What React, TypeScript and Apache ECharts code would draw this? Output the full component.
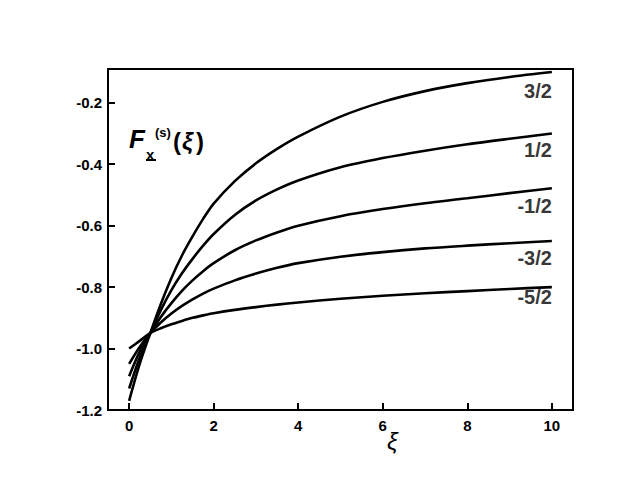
import React, { useEffect, useRef } from "react";
import * as echarts from "echarts";

const xi = [0, 0.25, 0.5, 0.75, 1, 1.25, 1.5, 1.75, 2, 2.5, 3, 3.5, 4, 5, 6, 7, 8, 9, 10];
const seriesNames = ["3/2", "1/2", "-1/2", "-3/2", "-5/2"];
const s32 = [-1.17, -1.05, -0.95, -0.855, -0.77, -0.697, -0.635, -0.578, -0.528, -0.455, -0.397, -0.35, -0.31, -0.245, -0.197, -0.162, -0.136, -0.116, -0.1];
const s12 = [-1.13, -1.03, -0.95, -0.875, -0.81, -0.755, -0.708, -0.665, -0.627, -0.565, -0.518, -0.482, -0.453, -0.41, -0.38, -0.356, -0.335, -0.317, -0.3];
const sm12 = [-1.09, -1.01, -0.95, -0.897, -0.852, -0.812, -0.778, -0.748, -0.722, -0.68, -0.648, -0.622, -0.6, -0.569, -0.546, -0.527, -0.511, -0.494, -0.478];
const sm32 = [-1.05, -0.995, -0.95, -0.915, -0.886, -0.861, -0.84, -0.821, -0.805, -0.778, -0.756, -0.737, -0.722, -0.701, -0.686, -0.674, -0.665, -0.657, -0.65];
const sm52 = [-1.0, -0.975, -0.95, -0.934, -0.921, -0.91, -0.9, -0.892, -0.885, -0.874, -0.865, -0.857, -0.85, -0.838, -0.828, -0.82, -0.813, -0.806, -0.8];
const allSeries = [s32, s12, sm12, sm32, sm52];
const xTicks = [0, 2, 4, 6, 8, 10];
const yTicks = [-1.2, -1.0, -0.8, -0.6, -0.4, -0.2];

// label vertical distances below the line end (styling)
const labelDistances = [8, 6, 7, 6, -1];

const FONT = '"Liberation Sans", Arial, sans-serif';

export default function App() {
  const ref = useRef<HTMLDivElement>(null);
  useEffect(() => {
    if (!ref.current) return;
    const chart = echarts.init(ref.current, undefined, { renderer: "svg" });
    const lines = allSeries.map((vals, si) => ({
      type: "line",
      name: seriesNames[si],
      smooth: 0.3,
      showSymbol: false,
      symbol: "none",
      lineStyle: { color: "#000", width: 2.6 },
      data: vals.map((v, i) => [xi[i], v]),
    }));
    const last = xi.length - 1;
    const endLabels = {
      type: "scatter",
      symbolSize: 1,
      itemStyle: { color: "rgba(0,0,0,0)" },
      silent: true,
      data: allSeries.map((vals, si) => ({
        value: [xi[last], vals[last]],
        label: {
          show: true,
          position: "bottom",
          align: "right",
          distance: labelDistances[si],
          formatter: seriesNames[si],
          color: "#000",
          fontFamily: FONT,
          fontWeight: "bold",
          fontSize: 20,
        },
      })),
    };
    chart.setOption({
      animation: false,
      grid: {
        left: 108,
        right: 67,
        top: 69,
        bottom: 77,
        show: true,
        borderColor: "#000",
        borderWidth: 2,
        backgroundColor: "transparent",
      },
      xAxis: {
        type: "value",
        min: -0.5,
        max: 10.5,
        splitLine: { show: false },
        axisLine: { onZero: false, lineStyle: { color: "#000", width: 2 } },
        axisTick: { inside: true, length: 7, lineStyle: { color: "#000", width: 2 }, customValues: xTicks },
        axisLabel: {
          customValues: xTicks,
          color: "#000",
          fontFamily: FONT,
          fontWeight: "bold",
          fontSize: 15,
          margin: 8,
        },
      },
      yAxis: {
        type: "value",
        min: -1.2,
        max: -0.09,
        splitLine: { show: false },
        axisLine: { onZero: false, lineStyle: { color: "#000", width: 2 } },
        axisTick: { inside: true, length: 7, lineStyle: { color: "#000", width: 2 }, customValues: yTicks },
        axisLabel: {
          customValues: yTicks,
          formatter: (v: number) => v.toFixed(1),
          color: "#000",
          fontFamily: FONT,
          fontWeight: "bold",
          fontSize: 15,
          margin: 6,
        },
      },
      graphic: [
        {
          type: "text",
          x: 129,
          y: 139,
          style: { text: "F", font: `italic bold 26px ${FONT}`, fill: "#000", verticalAlign: "middle" },
        },
        {
          type: "text",
          x: 146,
          y: 154,
          style: { text: "x", font: `bold 15px ${FONT}`, fill: "#000", verticalAlign: "middle" },
        },
        {
          type: "line",
          shape: { x1: 146, y1: 160, x2: 156, y2: 160 },
          style: { stroke: "#000", lineWidth: 2 },
        },
        {
          type: "text",
          x: 155,
          y: 132,
          style: { text: "(s)", font: `bold 13px ${FONT}`, fill: "#000", verticalAlign: "middle" },
        },
        {
          type: "text",
          x: 173,
          y: 141,
          style: { text: "(", font: `bold 24px ${FONT}`, fill: "#000", verticalAlign: "middle" },
        },
        {
          type: "text",
          x: 182,
          y: 141,
          style: { text: "ξ", font: `italic bold 24px ${FONT}`, fill: "#000", verticalAlign: "middle" },
        },
        {
          type: "text",
          x: 196,
          y: 141,
          style: { text: ")", font: `bold 24px ${FONT}`, fill: "#000", verticalAlign: "middle" },
        },
        {
          type: "text",
          x: 387,
          y: 441,
          style: { text: "ξ", font: `italic 24px ${FONT}`, fill: "#000", verticalAlign: "middle" },
        },
      ],
      series: [...lines, endLabels],
    });
    return () => chart.dispose();
  }, []);
  return (
    <div
      ref={ref}
      style={{ position: "fixed", left: 0, top: 0, width: 640, height: 487, background: "#fff" }}
    />
  );
}
